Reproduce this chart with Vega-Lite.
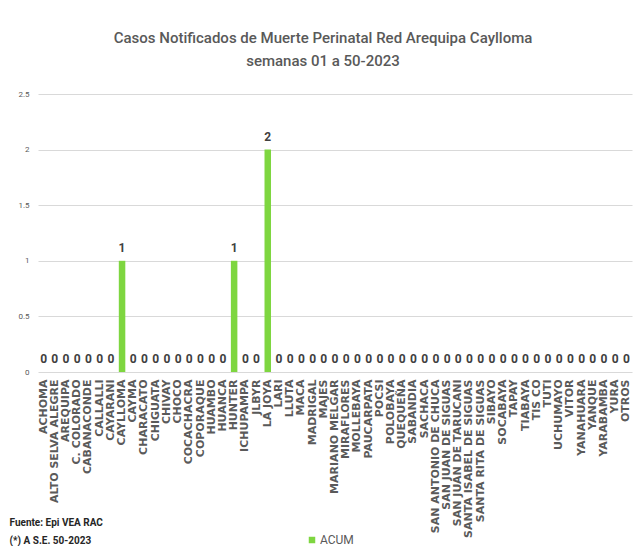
{
  "$schema": "https://vega.github.io/schema/vega-lite/v6.json",
  "autosize": {"type": "none"},
  "width": 594,
  "height": 278,
  "padding": {"left": 38, "top": 94, "right": 5, "bottom": 174},
  "background": "white",
  "title": {
    "text": ["Casos Notificados de Muerte Perinatal Red Arequipa Caylloma", "semanas 01 a 50-2023"],
    "font": "Roboto",
    "fontSize": 15,
    "fontWeight": 500,
    "color": "#595959",
    "anchor": "middle",
    "frame": "group",
    "dx": -12,
    "lineHeight": 23,
    "offset": 21
  },
  "data": {
    "values": [
      {"distrito": "ACHOMA", "casos": 0},
      {"distrito": "ALTO SELVA ALEGRE", "casos": 0},
      {"distrito": "AREQUIPA", "casos": 0},
      {"distrito": "C. COLORADO", "casos": 0},
      {"distrito": "CABANACONDE", "casos": 0},
      {"distrito": "CALLALLI", "casos": 0},
      {"distrito": "CAYARANI", "casos": 0},
      {"distrito": "CAYLLOMA", "casos": 1},
      {"distrito": "CAYMA", "casos": 0},
      {"distrito": "CHARACATO", "casos": 0},
      {"distrito": "CHIGUATA", "casos": 0},
      {"distrito": "CHIVAY", "casos": 0},
      {"distrito": "CHOCO", "casos": 0},
      {"distrito": "COCACHACRA", "casos": 0},
      {"distrito": "COPORAQUE", "casos": 0},
      {"distrito": "HUAMBO", "casos": 0},
      {"distrito": "HUANCA", "casos": 0},
      {"distrito": "HUNTER", "casos": 1},
      {"distrito": "ICHUPAMPA", "casos": 0},
      {"distrito": "JLBYR", "casos": 0},
      {"distrito": "LA JOYA", "casos": 2},
      {"distrito": "LARI", "casos": 0},
      {"distrito": "LLUTA", "casos": 0},
      {"distrito": "MACA", "casos": 0},
      {"distrito": "MADRIGAL", "casos": 0},
      {"distrito": "MAJES", "casos": 0},
      {"distrito": "MARIANO MELGAR", "casos": 0},
      {"distrito": "MIRAFLORES", "casos": 0},
      {"distrito": "MOLLEBAYA", "casos": 0},
      {"distrito": "PAUCARPATA", "casos": 0},
      {"distrito": "POCSI", "casos": 0},
      {"distrito": "POLOBAYA", "casos": 0},
      {"distrito": "QUEQUEÑA", "casos": 0},
      {"distrito": "SABANDIA", "casos": 0},
      {"distrito": "SACHACA", "casos": 0},
      {"distrito": "SAN ANTONIO DE CHUCA", "casos": 0},
      {"distrito": "SAN JUAN DE SIGUAS", "casos": 0},
      {"distrito": "SAN JUAN DE TARUCANI", "casos": 0},
      {"distrito": "SANTA ISABEL DE SIGUAS", "casos": 0},
      {"distrito": "SANTA RITA DE SIGUAS", "casos": 0},
      {"distrito": "SIBAYO", "casos": 0},
      {"distrito": "SOCABAYA", "casos": 0},
      {"distrito": "TAPAY", "casos": 0},
      {"distrito": "TIABAYA", "casos": 0},
      {"distrito": "TIS CO", "casos": 0},
      {"distrito": "TUTI", "casos": 0},
      {"distrito": "UCHUMAYO", "casos": 0},
      {"distrito": "VITOR", "casos": 0},
      {"distrito": "YANAHUARA", "casos": 0},
      {"distrito": "YANQUE", "casos": 0},
      {"distrito": "YARABAMBA", "casos": 0},
      {"distrito": "YURA", "casos": 0},
      {"distrito": "OTROS", "casos": 0}
    ]
  },
  "encoding": {
    "x": {
      "field": "distrito",
      "type": "nominal",
      "sort": null,
      "scale": {"paddingInner": 0.42, "paddingOuter": 0.21},
      "axis": {
        "labelAngle": -90,
        "labelFont": "DejaVu Sans",
        "labelFontSize": 11,
        "labelFontWeight": "bold",
        "labelColor": "#5a5a5a",
        "labelPadding": 7,
        "labelOverlap": false,
        "labelLimit": 400,
        "ticks": false,
        "domain": false,
        "title": ["Fuente: Epi VEA RAC", "(*) A S.E. 50-2023"],
        "titleFont": "Roboto",
        "titleFontSize": 10,
        "titleFontWeight": "bold",
        "titleColor": "#262626",
        "titleAlign": "left",
        "titleBaseline": "alphabetic",
        "titleX": -29,
        "titleY": 153,
        "titleLineHeight": 18
      }
    },
    "y": {
      "field": "casos",
      "type": "quantitative",
      "scale": {"domain": [0, 2.5]},
      "axis": {
        "values": [0, 0.5, 1, 1.5, 2, 2.5],
        "format": ".1~f",
        "title": null,
        "domain": false,
        "ticks": false,
        "grid": true,
        "gridColor": "#d9d9d9",
        "gridWidth": 1,
        "labelFont": "Roboto",
        "labelFontSize": 8,
        "labelColor": "#595959",
        "labelPadding": 9
      }
    }
  },
  "layer": [
    {
      "mark": {"type": "bar"},
      "encoding": {
        "color": {
          "datum": "ACUM",
          "scale": {"range": ["#7ed640"]},
          "legend": {
            "orient": "none",
            "legendX": 268,
            "legendY": 440,
            "title": null,
            "symbolType": "square",
            "symbolSize": 42,
            "symbolStrokeWidth": 0,
            "labelFont": "Roboto",
            "labelFontSize": 12,
            "labelColor": "#595959",
            "labelOffset": 2
          }
        }
      }
    },
    {
      "mark": {
        "type": "text",
        "baseline": "bottom",
        "dy": -6,
        "font": "Roboto",
        "fontSize": 12,
        "fontWeight": "bold",
        "color": "#404040"
      },
      "encoding": {
        "text": {"field": "casos", "type": "quantitative"}
      }
    }
  ],
  "config": {
    "view": {"stroke": null}
  }
}
